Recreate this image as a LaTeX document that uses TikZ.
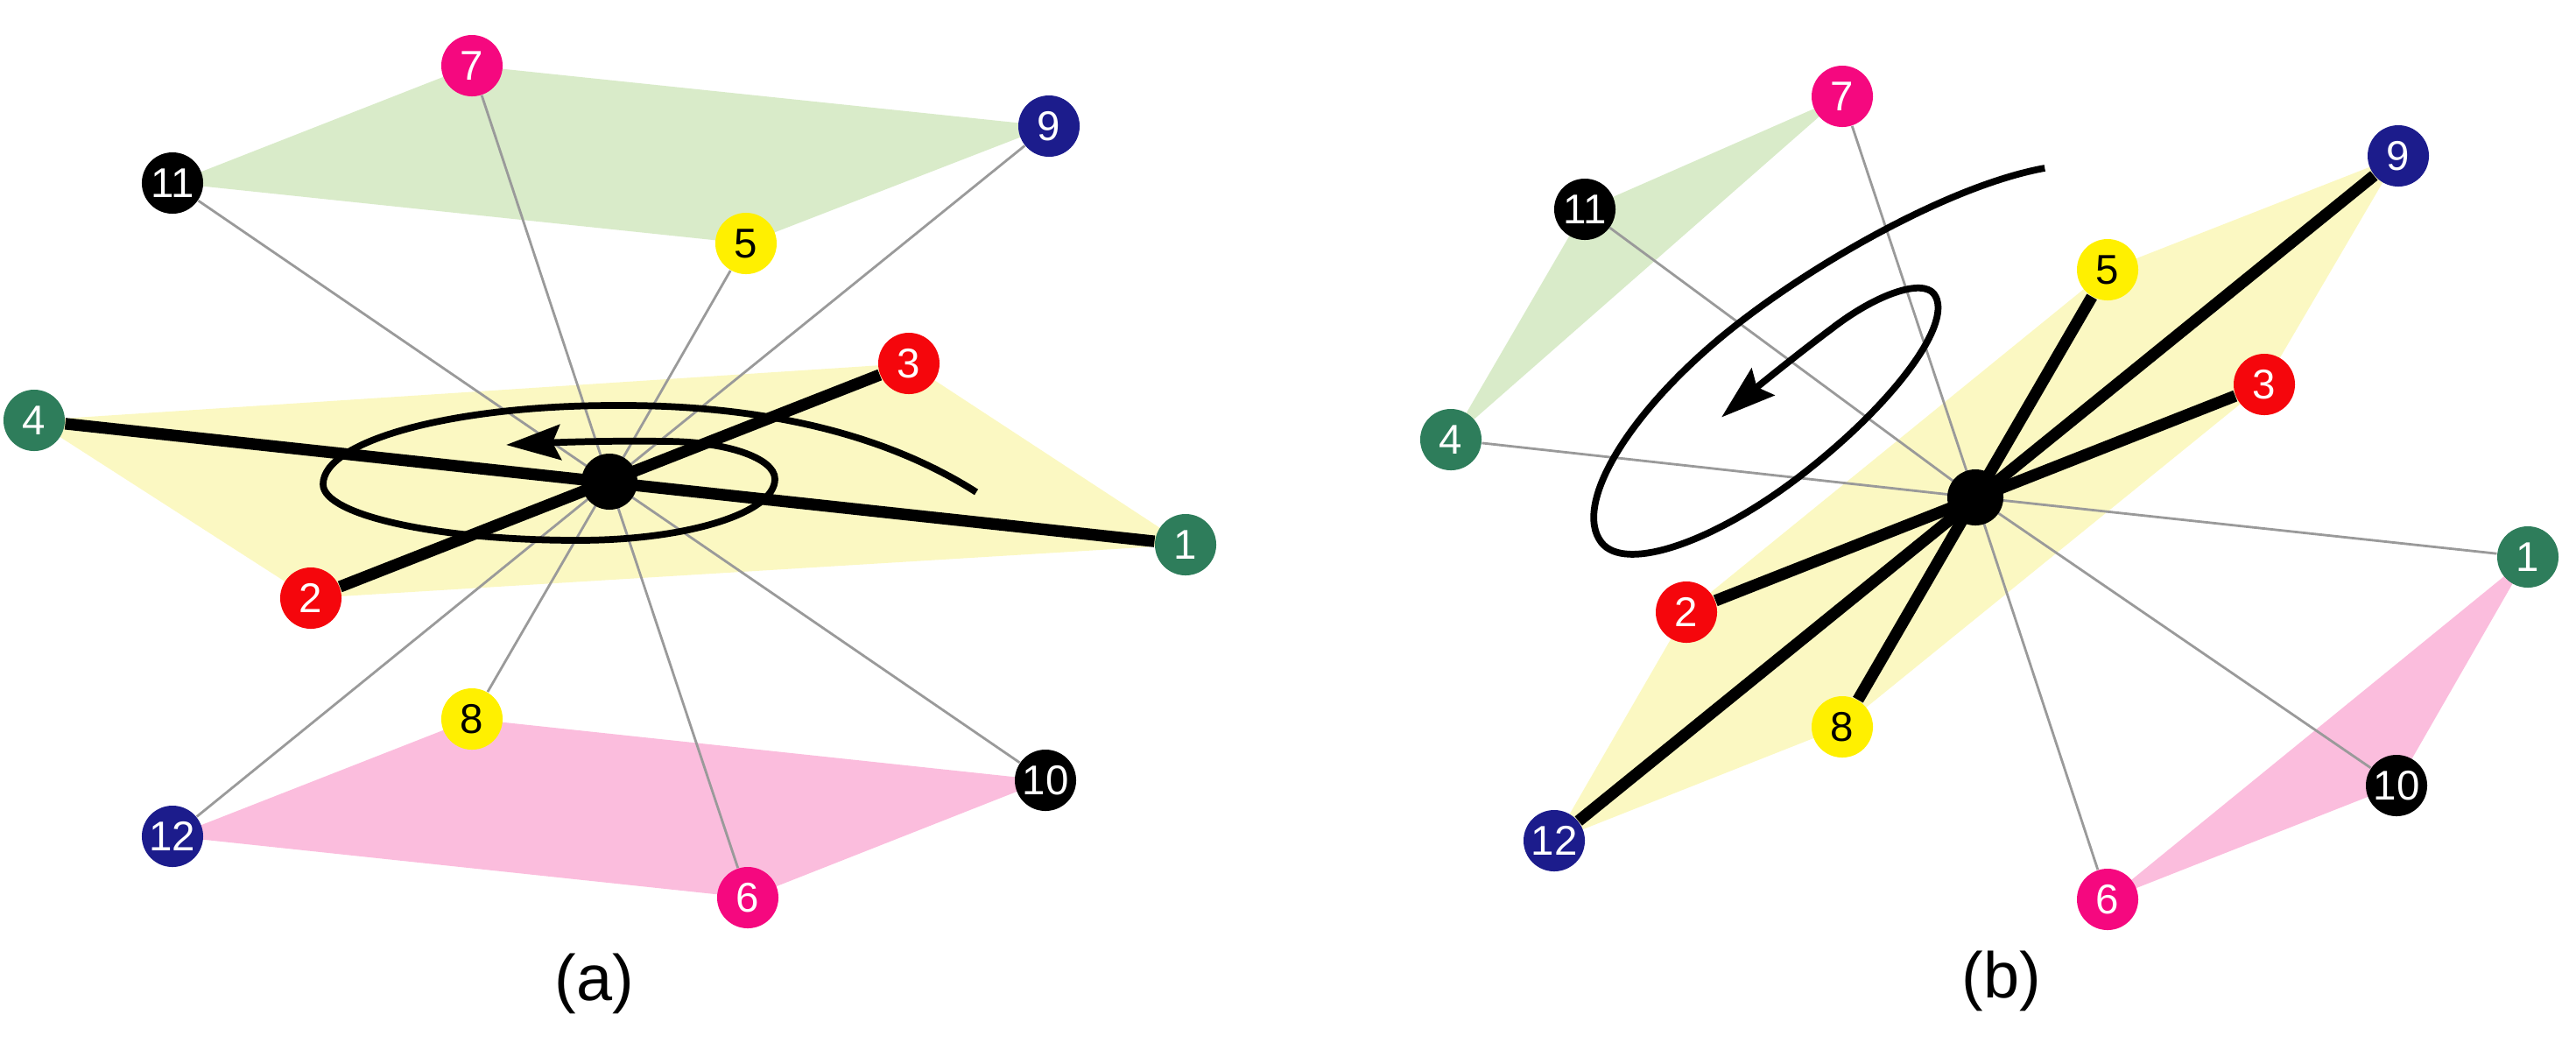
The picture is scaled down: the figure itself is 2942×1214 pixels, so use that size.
\documentclass[tikz,border=0pt]{standalone}
\usepackage{fontspec}
\setmainfont{Liberation Sans}
\usetikzlibrary{arrows.meta}
\pgfdeclarelayer{planes}
\pgfdeclarelayer{edges}
\pgfsetlayers{planes,edges,main}
\definecolor{cgreen}{HTML}{2E7D5B}
\definecolor{cred}{HTML}{F5060C}
\definecolor{cyel}{HTML}{FFF000}
\definecolor{cnavy}{HTML}{1C1C8C}
\definecolor{cmag}{HTML}{F5087F}
\definecolor{pyel}{HTML}{FBF8C2}
\definecolor{pgreen}{HTML}{D9EBC9}
\definecolor{ppink}{HTML}{FBBDDD}
\definecolor{lgray}{HTML}{9A9A9A}
\tikzset{
  ball/.style={circle, inner sep=0pt, minimum size=0.7cm, font=\fontsize{13.5}{13.5}\selectfont, text=white},
  gball/.style={ball, fill=cgreen},
  rball/.style={ball, fill=cred},
  yball/.style={ball, fill=cyel, text=black},
  nball/.style={ball, fill=cnavy},
  mball/.style={ball, fill=cmag},
  kball/.style={ball, fill=black},
  hub/.style={circle, fill=black, inner sep=0pt, minimum size=0.64cm},
  graylink/.style={draw=lgray, line width=0.8pt},
  boldlink/.style={draw=black, line width=3.8pt},
  spiral/.style={draw=black, line width=2.2pt, -{Stealth[length=6.2mm,width=4mm,inset=0.9mm]}},
  caption/.style={font=\fontsize{21}{21}\selectfont},
}
\begin{document}
\begin{tikzpicture}[x=0.01cm,y=-0.01cm]
\useasboundingbox (0,0) rectangle (2942,1214);
% ---------------- panel (a) ----------------
\node[hub] (ac) at (696,550) {};
\node[gball] (a1) at (1354,622) {1};
\node[rball] (a2) at (355,683) {2};
\node[rball] (a3) at (1038,415) {3};
\node[gball] (a4) at (39,480) {4};
\node[yball] (a5) at (852,278) {5};
\node[mball] (a6) at (854,1025) {6};
\node[mball] (a7) at (539,75) {7};
\node[yball] (a8) at (539,821) {8};
\node[nball] (a9) at (1198,144) {9};
\node[kball] (a10) at (1194,891) {10};
\node[kball] (a11) at (197,209) {11};
\node[nball] (a12) at (197,955) {12};
\node[caption] (alab) at (679,1123) {(a)};
\begin{pgfonlayer}{planes}
\fill[pyel] (a4.center) -- (a3.center) -- (a1.center) -- (a2.center) -- cycle;
\fill[pgreen] (a11.center) -- (a7.center) -- (a9.center) -- (a5.center) -- cycle;
\fill[ppink] (a12.center) -- (a8.center) -- (a10.center) -- (a6.center) -- cycle;
\end{pgfonlayer}
\begin{pgfonlayer}{edges}
\foreach \n in {5,6,7,8,9,10,11,12} \draw[graylink] (ac.center) -- (a\n);
\draw[boldlink] (a4) -- (a1);
\draw[boldlink] (a3) -- (a2);
\end{pgfonlayer}
\draw[spiral] (1115,562) .. controls (1010,495) and (870,462) .. (702,463)
  .. controls (518,463) and (369,503) .. (369,553)
  .. controls (369,588) and (499,617) .. (660,617)
  .. controls (784,617) and (885,586) .. (885,547)
  .. controls (885,523) and (829,504) .. (760,504)
  .. controls (700,503) and (640,505) .. (578,508);
% ---------------- panel (b) ----------------
\node[hub] (bc) at (2256,568) {};
\node[gball] (b1) at (2887,636) {1};
\node[rball] (b2) at (1926,699) {2};
\node[rball] (b3) at (2586,439) {3};
\node[gball] (b4) at (1657,502) {4};
\node[yball] (b5) at (2407,308) {5};
\node[mball] (b6) at (2407,1027) {6};
\node[mball] (b7) at (2104,110) {7};
\node[yball] (b8) at (2104,830) {8};
\node[nball] (b9) at (2739,178) {9};
\node[kball] (b10) at (2737,897) {10};
\node[kball] (b11) at (1810,239) {11};
\node[nball] (b12) at (1775,960) {12};
\node[caption] (blab) at (2286,1120) {(b)};
\begin{pgfonlayer}{planes}
\fill[pyel] (b9.center) -- (b3.center) -- (b8.center) -- (b12.center) -- (b2.center) -- (b5.center) -- cycle;
\fill[pgreen] (b4.center) -- (b11.center) -- (b7.center) -- cycle;
\fill[ppink] (b1.center) -- (b10.center) -- (b6.center) -- cycle;
\end{pgfonlayer}
\begin{pgfonlayer}{edges}
\foreach \n in {1,4,6,7,10,11} \draw[graylink] (bc.center) -- (b\n);
\draw[boldlink] (b9) -- (b12);
\draw[boldlink] (b5) -- (b8);
\draw[boldlink] (b3) -- (b2);
\end{pgfonlayer}
\begin{scope}[shift={(2022,480)}, x={(0.00791cm,0.00612cm)}, y={(-0.00612cm,0.00791cm)}]
\draw[spiral] (424,36) .. controls (330,85) and (160,110) .. (40,110)
  .. controls (-114,110) and (-238,64) .. (-238,8)
  .. controls (-238,-36) and (-136,-71) .. (-10,-71)
  .. controls (126,-71) and (236,-39) .. (236,0)
  .. controls (236,22) and (184,40) .. (120,40)
  .. controls (60,41) and (0,39) .. (-42,37);
\end{scope}
\end{tikzpicture}
\end{document}
